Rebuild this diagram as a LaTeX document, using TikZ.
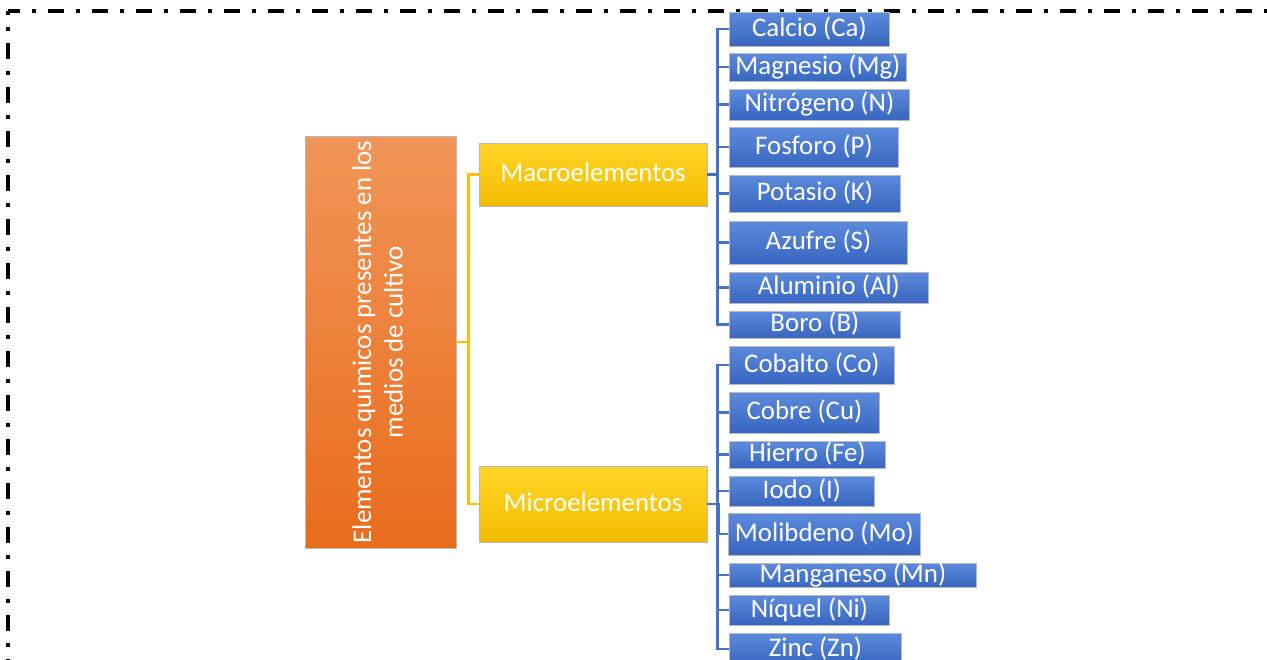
\documentclass[tikz,border=0pt]{standalone}
\usepackage{fontspec}
\setmainfont{Carlito}
\usepackage{tikz}

\definecolor{orangetop}{RGB}{241,150,88}
\definecolor{orangebot}{RGB}{232,108,28}
\definecolor{goldtop}{RGB}{255,214,40}
\definecolor{goldbot}{RGB}{242,188,0}
\definecolor{bluetop}{RGB}{92,138,220}
\definecolor{bluebot}{RGB}{56,102,192}
\definecolor{goldline}{RGB}{255,192,0}
\definecolor{blueline}{RGB}{68,114,196}

\tikzset{
  box/.style={inner sep=0pt, text=white, draw=gray!55, line width=0.5pt,
    font=\fontsize{15.3}{18}\selectfont},
  mainbox/.style={box, top color=orangetop, bottom color=orangebot},
  groupbox/.style={box, text height=2ex, text depth=0.3ex,
    top color=goldtop, bottom color=goldbot},
  elembox/.style={box, anchor=west, text height=2ex, text depth=0.3ex,
    top color=bluetop, bottom color=bluebot},
  goldlink/.style={draw=goldline, line width=1.4pt},
  bluelink/.style={draw=blueline, line width=1.4pt},
  frame/.style={line width=1.8pt, line cap=butt,
    dash pattern=on 0.32cm off 0.24cm on 0.08cm off 0.24cm}
}

\begin{document}
\begin{tikzpicture}[x=0.02cm,y=-0.02cm]
\useasboundingbox (0,0) rectangle (1267,659);
\clip (0,0) rectangle (1267,659);

% dash-dot frame
\draw[frame, dash phase=0.08cm] (8,11) -- (1300,11);
\draw[frame, dash phase=0.24cm] (8,11) -- (8,700);

% root
\node[mainbox, minimum width=3.02cm, minimum height=8.24cm] (root) at (380.5,342)
  {\rotatebox{90}{\begin{tabular}{@{}c@{}}Elementos quimicos presentes en los\\medios de cultivo\end{tabular}}};

% groups
\node[groupbox, minimum width=4.56cm, minimum height=1.26cm] (macro) at (593,174.5) {Macroelementos};
\node[groupbox, minimum width=4.56cm, minimum height=1.52cm] (micro) at (593,504) {Microelementos};

% macro elements
\node[elembox, minimum width=3.2cm,  minimum height=0.68cm] (calcio) at (729,29) {Calcio (Ca)};
\node[elembox, minimum width=3.54cm, minimum height=0.56cm] (magnesio) at (729,67) {Magnesio (Mg)};
\node[elembox, minimum width=3.6cm,  minimum height=0.62cm] (nitrogeno) at (729,104.5) {Nitrógeno (N)};
\node[elembox, minimum width=3.38cm, minimum height=0.8cm]  (fosforo) at (729,147) {Fosforo (P)};
\node[elembox, minimum width=3.42cm, minimum height=0.74cm] (potasio) at (729,193.5) {Potasio (K)};
\node[elembox, minimum width=3.56cm, minimum height=0.86cm] (azufre) at (729,242.5) {Azufre (S)};
\node[elembox, minimum width=3.98cm, minimum height=0.62cm] (aluminio) at (729,287.5) {Aluminio (Al)};
\node[elembox, minimum width=3.42cm, minimum height=0.54cm] (boro) at (729,324.5) {Boro (B)};

% micro elements
\node[elembox, minimum width=3.3cm,  minimum height=0.76cm] (cobalto) at (729,365) {Cobalto (Co)};
\node[elembox, minimum width=3.0cm,  minimum height=0.82cm] (cobre) at (729,412.5) {Cobre (Cu)};
\node[elembox, minimum width=3.12cm, minimum height=0.54cm] (hierro) at (729,454.5) {Hierro (Fe)};
\node[elembox, minimum width=2.9cm,  minimum height=0.6cm]  (iodo) at (729,491) {Iodo (I)};
\node[elembox, minimum width=3.84cm, minimum height=0.84cm] (molibdeno) at (728,534) {Molibdeno (Mo)};
\node[elembox, minimum width=4.94cm, minimum height=0.48cm] (manganeso) at (729,575) {Manganeso (Mn)};
\node[elembox, minimum width=3.2cm,  minimum height=0.6cm]  (niquel) at (729,610) {Níquel (Ni)};
\node[elembox, minimum width=3.44cm, minimum height=0.64cm] (zinc) at (729,649) {Zinc (Zn)};

% links
\draw[goldlink] (root.east) -- ++(12,0) |- (macro.west);
\draw[goldlink] (root.east) -- ++(12,0) |- (micro.west);

\draw[bluelink] (macro.east) -- ++(10,0) |- (calcio.west);
\draw[bluelink] (macro.east) -- ++(10,0) |- (magnesio.west);
\draw[bluelink] (macro.east) -- ++(10,0) |- (nitrogeno.west);
\draw[bluelink] (macro.east) -- ++(10,0) |- (fosforo.west);
\draw[bluelink] (macro.east) -- ++(10,0) |- (potasio.west);
\draw[bluelink] (macro.east) -- ++(10,0) |- (azufre.west);
\draw[bluelink] (macro.east) -- ++(10,0) |- (aluminio.west);
\draw[bluelink] (macro.east) -- ++(10,0) |- (boro.west);

\draw[bluelink] (micro.east) -- ++(10,0) |- (cobalto.west);
\draw[bluelink] (micro.east) -- ++(10,0) |- (cobre.west);
\draw[bluelink] (micro.east) -- ++(10,0) |- (hierro.west);
\draw[bluelink] (micro.east) -- ++(10,0) |- (iodo.west);
\draw[bluelink] (micro.east) -- ++(11,0) |- (molibdeno.west);
\draw[bluelink] (micro.east) -- ++(10,0) |- (manganeso.west);
\draw[bluelink] (micro.east) -- ++(10,0) |- (niquel.west);
\draw[bluelink] (micro.east) -- ++(10,0) |- (zinc.west);
\end{tikzpicture}
\end{document}
